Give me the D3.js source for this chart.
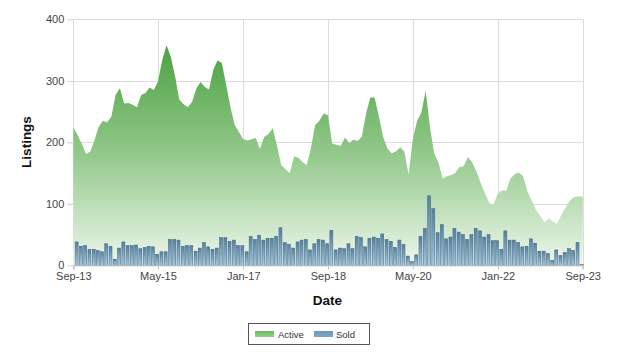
<!DOCTYPE html>
<html>
<head>
<meta charset="utf-8">
<script src="https://cdn.jsdelivr.net/npm/d3@7"></script>
<style>
  html, body { margin: 0; padding: 0; background: #fff; }
  svg { display: block; }
</style>
</head>
<body>
<svg id="chart" width="625" height="355"></svg>
<script>
// ---- Data ----
const startMonth = "Sep-13";   // first month of the series
const activeValues = [
  224, 212, 198, 181, 185, 204, 225, 235, 232, 242,
  277, 288, 263, 264, 261, 257, 277, 280, 289, 285,
  299, 334, 358, 339, 307, 269, 262, 257, 266, 288,
  298, 290, 286, 318, 333, 329, 293, 258, 228, 217,
  205, 203, 205, 207, 189, 209, 213, 223, 193, 163,
  156, 150, 177, 175, 168, 163, 190, 228, 235, 247,
  244, 198, 196, 194, 208, 199, 204, 202, 209, 247,
  273, 273, 242, 209, 190, 182, 185, 192, 185, 148,
  205, 235, 248, 284, 225, 182, 167, 141, 145, 147,
  150, 160, 161, 176, 167, 152, 133, 117, 101, 98,
  117, 122, 121, 141, 148, 151, 145, 120, 105, 90,
  80, 70, 76, 71, 67, 82, 94, 105, 111, 112,
  112
];
const soldValues = [
  38, 31, 32, 26, 26, 24, 22, 35, 31, 10,
  28, 38, 32, 32, 33, 27, 29, 31, 30, 18,
  22, 22, 42, 42, 41, 31, 32, 32, 23, 28,
  37, 30, 26, 28, 45, 45, 39, 41, 32, 32,
  22, 47, 42, 49, 41, 44, 44, 47, 61, 37,
  34, 28, 38, 41, 42, 25, 35, 42, 41, 35,
  57, 25, 28, 27, 35, 27, 47, 45, 30, 44,
  46, 44, 51, 42, 39, 29, 41, 34, 15, 6,
  17, 47, 60, 113, 92, 53, 66, 43, 46, 60,
  54, 50, 42, 50, 60, 56, 46, 50, 40, 40,
  26, 56, 41, 41, 37, 30, 31, 43, 36, 23,
  23, 19, 8, 25, 16, 21, 27, 24, 37, 1
];
const xTickLabels = ["Sep-13", "May-15", "Jan-17", "Sep-18", "May-20", "Jan-22", "Sep-23"];
const yTickValues = [0, 100, 200, 300, 400];
const seriesNames = ["Active", "Sold"];

// ---- Setup ----
const parse = d3.timeParse("%b-%y");
const fmt = d3.timeFormat("%b-%y");
const start = parse(startMonth);
const activeData = activeValues.map((v, i) => ({ date: d3.timeMonth.offset(start, i), value: v }));
const soldData = soldValues.map((v, i) => ({ date: d3.timeMonth.offset(start, i), value: v }));
const tickDates = xTickLabels.map(parse);

const svg = d3.select("#chart");
const plotLeft = 73.3, plotRight = 582.7, plotTop = 19.3, plotBottom = 265.3;

const x = d3.scaleTime().domain([tickDates[0], tickDates[tickDates.length - 1]]).range([plotLeft, plotRight]);
const y = d3.scaleLinear().domain([0, 400]).range([plotBottom, plotTop]);

const font = "'Liberation Sans', Arial, sans-serif";

// gradients
const defs = svg.append("defs");
const gA = defs.append("linearGradient").attr("id", "gActive")
  .attr("gradientUnits", "userSpaceOnUse")
  .attr("x1", 0).attr("x2", 0).attr("y1", y(400)).attr("y2", y(0));
gA.append("stop").attr("offset", "0%").attr("stop-color", "#3a9830");
gA.append("stop").attr("offset", "55%").attr("stop-color", "#93c98b");
gA.append("stop").attr("offset", "100%").attr("stop-color", "#eef7ec");

const gS = defs.append("linearGradient").attr("id", "gSold")
  .attr("x1", 0).attr("x2", 0).attr("y1", 0).attr("y2", 1);
gS.append("stop").attr("offset", "0%").attr("stop-color", "#55809f");
gS.append("stop").attr("offset", "100%").attr("stop-color", "#a8c8e2");

const gSL = defs.append("linearGradient").attr("id", "gSoldLeg")
  .attr("x1", 0).attr("x2", 0).attr("y1", 0).attr("y2", 1);
gSL.append("stop").attr("offset", "0%").attr("stop-color", "#6f98b8");
gSL.append("stop").attr("offset", "100%").attr("stop-color", "#7ea6c4");

const gAL = defs.append("linearGradient").attr("id", "gActLeg")
  .attr("x1", 0).attr("x2", 0).attr("y1", 0).attr("y2", 1);
gAL.append("stop").attr("offset", "0%").attr("stop-color", "#6cbc62");
gAL.append("stop").attr("offset", "100%").attr("stop-color", "#8fd086");

// grid
const grid = svg.append("g").attr("stroke", "#dcdcdc").attr("stroke-width", 1);
grid.selectAll("line.h").data(yTickValues).join("line")
  .attr("x1", plotLeft).attr("x2", plotRight)
  .attr("y1", d => Math.round(y(d)) + 0.5).attr("y2", d => Math.round(y(d)) + 0.5);
grid.selectAll("line.v").data(tickDates).join("line")
  .attr("y1", plotTop).attr("y2", plotBottom)
  .attr("x1", d => Math.round(x(d)) + 0.5).attr("x2", d => Math.round(x(d)) + 0.5);

// area
const area = d3.area()
  .x(d => x(d.date))
  .y0(y(0))
  .y1(d => y(d.value))
  .curve(d3.curveLinear);
svg.append("path").datum(activeData)
  .attr("d", area)
  .attr("fill", "url(#gActive)");

// bars
const barW = 3;
svg.append("g").selectAll("rect").data(soldData).join("rect")
  .attr("x", d => {
    const x0 = x(d.date), x1 = x(d3.timeMonth.offset(d.date, 1));
    return x0 + 0.8 * (x1 - x0) - barW / 2;
  })
  .attr("width", barW)
  .attr("y", d => y(d.value))
  .attr("height", d => Math.max(0.8, y(0) - y(d.value)))
  .attr("fill", "url(#gSold)")
  .attr("stroke", "#3f6684")
  .attr("stroke-width", 0.5);

// axes
const yAxis = svg.append("g").attr("transform", `translate(${plotLeft},0)`)
  .call(d3.axisLeft(y).tickValues(yTickValues).tickSize(6).tickPadding(3));
yAxis.select(".domain").remove();
yAxis.selectAll(".tick line").attr("stroke", "#cfcfcf");
yAxis.selectAll("text").attr("font-family", font).attr("font-size", 11).attr("fill", "#444");

const xAxis = svg.append("g").attr("transform", `translate(0,${plotBottom})`)
  .call(d3.axisBottom(x).tickValues(tickDates).tickFormat(fmt).tickSize(4).tickPadding(3));
xAxis.select(".domain").attr("stroke", "#bdbdbd");
xAxis.selectAll(".tick line").attr("stroke", "#bdbdbd");
xAxis.selectAll("text").attr("font-family", font).attr("font-size", 11).attr("fill", "#444");

// axis titles
svg.append("text")
  .attr("transform", `translate(31,142) rotate(-90)`)
  .attr("text-anchor", "middle")
  .attr("font-family", font).attr("font-weight", "bold").attr("font-size", 13.5)
  .attr("fill", "#111")
  .text("Listings");
svg.append("text")
  .attr("x", 327.5).attr("y", 305)
  .attr("text-anchor", "middle")
  .attr("font-family", font).attr("font-weight", "bold").attr("font-size", 13.5)
  .attr("fill", "#111")
  .text("Date");

// legend
const leg = svg.append("g");
leg.append("rect").attr("x", 248.5).attr("y", 323.5).attr("width", 121).attr("height", 21)
  .attr("fill", "#fff").attr("stroke", "#555").attr("stroke-width", 1);
const items = leg.selectAll("g.item").data(seriesNames).join("g")
  .attr("transform", (d, i) => `translate(${i === 0 ? 255 : 314},0)`);
items.append("rect").attr("x", 0).attr("y", 331).attr("width", 19).attr("height", 6)
  .attr("fill", (d, i) => i === 0 ? "url(#gActLeg)" : "url(#gSoldLeg)");
items.append("text").attr("x", (d, i) => i === 0 ? 23 : 22).attr("y", 337.5)
  .attr("font-family", font).attr("font-size", 9.5).attr("fill", "#333")
  .text(d => d);
</script>
</body>
</html>
